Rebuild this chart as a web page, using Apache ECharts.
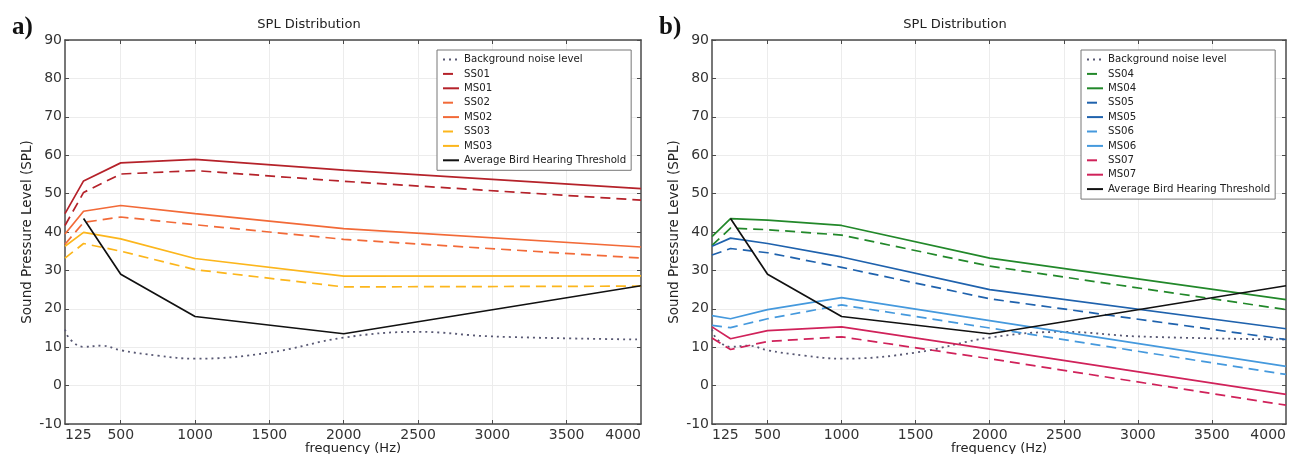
<!DOCTYPE html>
<html>
<head>
<meta charset="utf-8">
<script src="https://cdn.jsdelivr.net/npm/echarts@6/dist/echarts.min.js"></script>
<style>
html,body{margin:0;padding:0;background:#fff;}
#chart{width:1300px;height:454px;}
</style>
</head>
<body>
<div id="chart"></div>
<script>
// ---- data ----
const freqs = [125, 250, 500, 1000, 2000, 4000];
const xTickLabels = [125, 500, 1000, 1500, 2000, 2500, 3000, 3500, 4000];
const xGridTicks = [500, 1000, 1500, 2000, 2500, 3000, 3500];
const noiseFreqs = [125, 160, 250, 375, 500, 750, 1000, 1500, 2000, 2500, 3000, 4000];
const noiseLevel = [14.6, 12.0, 10.1, 10.4, 9.2, 7.8, 7.0, 8.6, 12.5, 14.0, 12.8, 12.0];
const birdFreqs = [250, 500, 1000, 2000, 4000];
const birdThreshold = [43.5, 29.0, 18.0, 13.5, 26.0];

const SS01 = [41.7, 50.3, 55.1, 56.0, 53.2, 48.3];
const MS01 = [44.8, 53.3, 58.0, 58.9, 56.1, 51.3];
const SS02 = [36.8, 42.5, 43.9, 41.9, 38.1, 33.2];
const MS02 = [39.5, 45.4, 46.9, 44.8, 40.9, 36.1];
const SS03 = [33.2, 37.0, 35.0, 30.2, 25.7, 25.9];
const MS03 = [36.3, 39.9, 38.2, 33.1, 28.5, 28.6];

const SS04 = [36.5, 41.0, 40.6, 39.2, 31.1, 19.8];
const MS04 = [38.8, 43.5, 43.1, 41.7, 33.2, 22.4];
const SS05 = [34.0, 35.7, 34.6, 30.8, 22.6, 12.0];
const MS05 = [36.3, 38.4, 37.0, 33.5, 25.0, 14.8];
const SS06 = [15.7, 15.1, 17.4, 21.0, 15.0, 2.9];
const MS06 = [18.2, 17.4, 19.8, 22.9, 16.9, 5.0];
const SS07 = [12.4, 9.4, 11.5, 12.7, 7.0, -5.1];
const MS07 = [15.3, 12.2, 14.3, 15.3, 9.5, -2.3];

const panelA = [
  {name: 'SS01', data: SS01, color: '#b5222a', dashed: true},
  {name: 'MS01', data: MS01, color: '#b5222a', dashed: false},
  {name: 'SS02', data: SS02, color: '#f26a38', dashed: true},
  {name: 'MS02', data: MS02, color: '#f26a38', dashed: false},
  {name: 'SS03', data: SS03, color: '#fcb61c', dashed: true},
  {name: 'MS03', data: MS03, color: '#fcb61c', dashed: false}
];
const panelB = [
  {name: 'SS04', data: SS04, color: '#22882a', dashed: true},
  {name: 'MS04', data: MS04, color: '#22882a', dashed: false},
  {name: 'SS05', data: SS05, color: '#1f62ad', dashed: true},
  {name: 'MS05', data: MS05, color: '#1f62ad', dashed: false},
  {name: 'SS06', data: SS06, color: '#4599dd', dashed: true},
  {name: 'MS06', data: MS06, color: '#4599dd', dashed: false},
  {name: 'SS07', data: SS07, color: '#d0225a', dashed: true},
  {name: 'MS07', data: MS07, color: '#d0225a', dashed: false}
];

const pair = (xs, ys) => xs.map((x, i) => [x, ys[i]]);
const FONT = 'DejaVu Sans';
const axisColor = '#4a4a4a';

const grids = [
  {left: 65, right: 1300 - 641, top: 40, bottom: 454 - 424, outerBoundsMode: 'none', containLabel: false},
  {left: 712, right: 1300 - 1286, top: 40, bottom: 454 - 424, outerBoundsMode: 'none', containLabel: false}
];

const xAxes = [], yAxes = [];
[0, 1].forEach(g => {
  xAxes.push({
    type: 'value', gridIndex: g, min: 125, max: 4000, position: 'bottom',
    name: 'frequency (Hz)', nameLocation: 'middle', nameGap: 18, nameMoveOverlap: false,
    nameTextStyle: {fontFamily: FONT, fontSize: 13, color: '#222'},
    axisLine: {show: true, onZero: false, lineStyle: {color: axisColor, width: 1.5}},
    axisTick: {show: true, inside: true, length: 4, customValues: xGridTicks, lineStyle: {color: axisColor}},
    axisLabel: {show: true, customValues: xTickLabels, fontFamily: FONT, fontSize: 14, color: '#333', margin: 4,
      alignMinLabel: 'left', alignMaxLabel: 'right', formatter: v => String(v)},
    splitLine: {show: true, lineStyle: {color: '#ececec', width: 1}}
  });
  xAxes.push({
    type: 'value', gridIndex: g, min: 125, max: 4000, position: 'top',
    axisLine: {show: true, onZero: false, lineStyle: {color: axisColor, width: 1.5}},
    axisTick: {show: true, inside: true, length: 4, customValues: xGridTicks, lineStyle: {color: axisColor}},
    axisLabel: {show: false}, splitLine: {show: false}
  });
  yAxes.push({
    type: 'value', gridIndex: g, min: -10, max: 90, interval: 10, position: 'left',
    name: 'Sound Pressure Level (SPL)', nameLocation: 'middle', nameGap: 31,
    nameTextStyle: {fontFamily: FONT, fontSize: 13.5, color: '#222'},
    axisLine: {show: true, onZero: false, lineStyle: {color: axisColor, width: 1.5}},
    axisTick: {show: true, inside: true, length: 4, lineStyle: {color: axisColor}},
    axisLabel: {fontFamily: FONT, fontSize: 14, color: '#333', margin: 3},
    splitLine: {show: true, lineStyle: {color: '#ececec', width: 1}}
  });
  yAxes.push({
    type: 'value', gridIndex: g, min: -10, max: 90, interval: 10, position: 'right',
    axisLine: {show: true, onZero: false, lineStyle: {color: axisColor, width: 1.5}},
    axisTick: {show: true, inside: true, length: 4, lineStyle: {color: axisColor}},
    axisLabel: {show: false}, splitLine: {show: false}
  });
});

const series = [];
const legends = [];
function addPanel(g, list, legendLeft, legendTop) {
  const xi = g * 2, yi = g * 2;
  const names = [];
  series.push({
    name: 'Background noise level', type: 'line', xAxisIndex: xi, yAxisIndex: yi,
    data: pair(noiseFreqs, noiseLevel), smooth: 0.4, symbol: 'none',
    lineStyle: {color: '#585873', width: 1.8, type: [2, 4]}, itemStyle: {color: '#585873'}, z: 3
  });
  names.push('Background noise level');
  list.forEach(s => {
    series.push({
      name: s.name, type: 'line', xAxisIndex: xi, yAxisIndex: yi,
      data: pair(freqs, s.data), symbol: 'none',
      lineStyle: {color: s.color, width: 1.7, type: s.dashed ? [10, 6] : 'solid'},
      itemStyle: {color: s.color}, z: 4
    });
    names.push(s.name);
  });
  series.push({
    name: 'Average Bird Hearing Threshold', type: 'line', xAxisIndex: xi, yAxisIndex: yi,
    data: pair(birdFreqs, birdThreshold), symbol: 'none',
    lineStyle: {color: '#111111', width: 1.7}, itemStyle: {color: '#111111'}, z: 5
  });
  names.push('Average Bird Hearing Threshold');
  legends.push({
    data: names, orient: 'vertical', left: legendLeft, top: legendTop,
    itemWidth: 16, itemHeight: 10, itemGap: 2.4, padding: [3.5, 5, 4, 5],
    itemStyle: {opacity: 0},
    backgroundColor: '#fff', borderColor: '#777', borderWidth: 1,
    textStyle: {fontFamily: FONT, fontSize: 10.2, lineHeight: 12, color: '#222'},
    selectedMode: false
  });
}
addPanel(0, panelA, 437, 50);
addPanel(1, panelB, 1081, 50);

const option = {
  animation: false,
  backgroundColor: '#fff',
  title: [
    {text: 'SPL Distribution', left: 304, top: 13, textAlign: 'center',
      textStyle: {fontFamily: FONT, fontSize: 13, fontWeight: 'normal', color: '#222'}},
    {text: 'SPL Distribution', left: 950, top: 13, textAlign: 'center',
      textStyle: {fontFamily: FONT, fontSize: 13, fontWeight: 'normal', color: '#222'}},
    {text: 'a)', left: 7, top: 10,
      textStyle: {fontFamily: 'Liberation Serif', fontSize: 25, fontWeight: 'bold', color: '#111'}},
    {text: 'b)', left: 654, top: 10,
      textStyle: {fontFamily: 'Liberation Serif', fontSize: 25, fontWeight: 'bold', color: '#111'}}
  ],
  grid: grids,
  xAxis: xAxes,
  yAxis: yAxes,
  legend: legends,
  series: series
};

const chart = echarts.init(document.getElementById('chart'), null, {renderer: 'canvas'});
chart.setOption(option);
</script>
</body>
</html>
